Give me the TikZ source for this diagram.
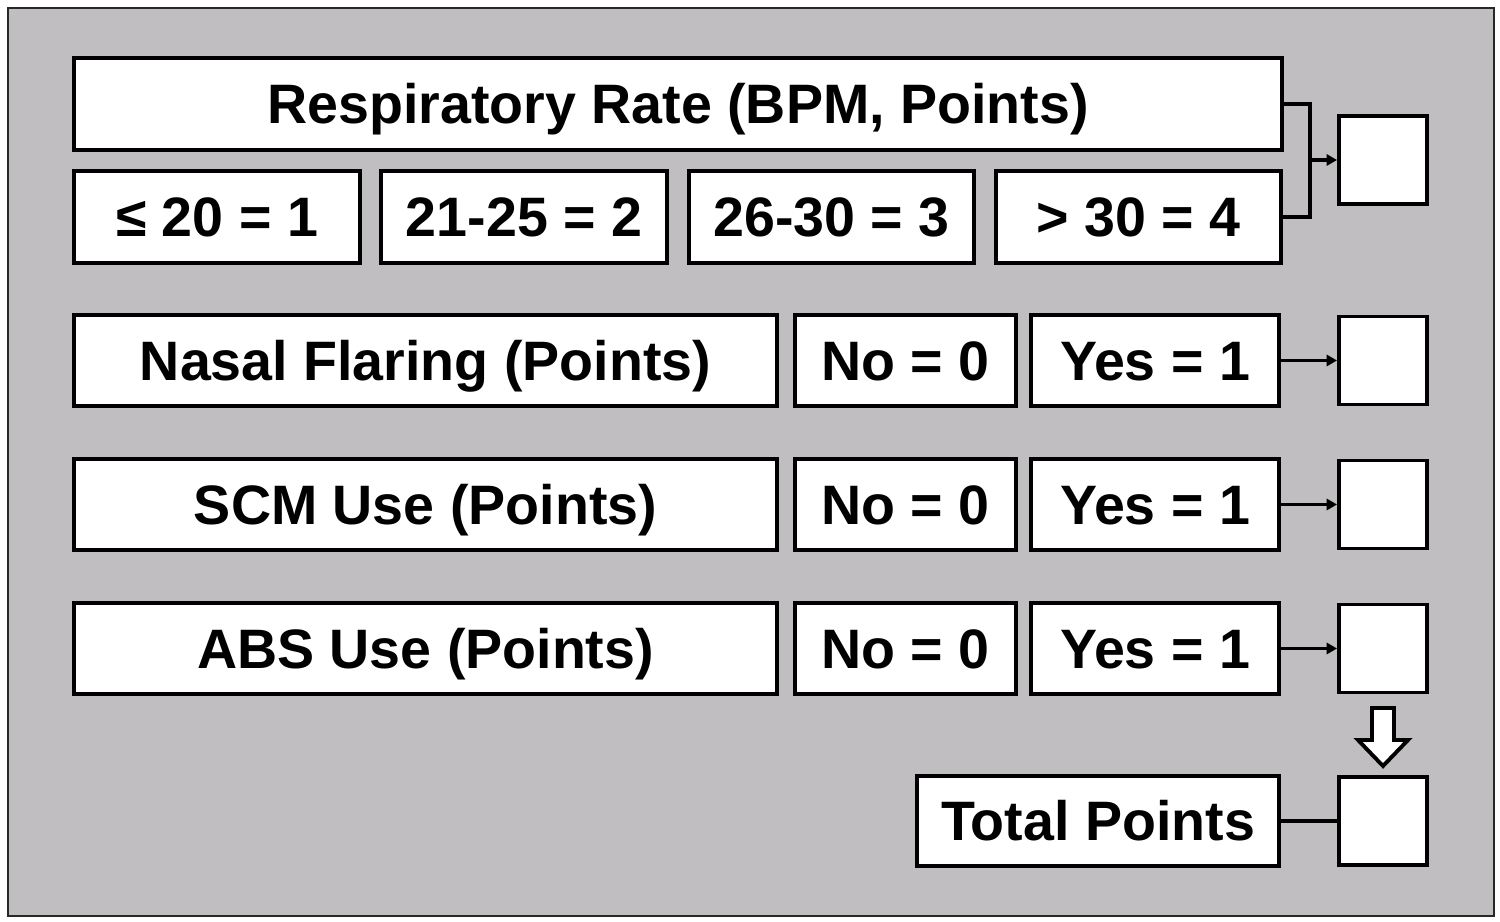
\documentclass[tikz,border=0pt]{standalone}
\usepackage{fontspec}
\setmainfont{Liberation Sans}
\usetikzlibrary{arrows.meta}
\begin{document}
\begin{tikzpicture}[x=0.01cm,y=-0.01cm,
  box/.style={draw=black,fill=white,line width=1.1pt,inner sep=0pt,
    font=\fontsize{15.8}{18}\selectfont\bfseries,minimum height=0.92cm,
    text height=14pt,text depth=2.7pt},
  score/.style={box,minimum width=0.88cm,minimum height=0.88cm},
  arr/.style={line width=0.9pt,-{Triangle[length=3pt,width=3.2pt]}},
  link/.style={line width=0.9pt}]
\useasboundingbox (0,0) rectangle (1500,922);
\draw[fill={rgb,255:red,192;green,190;blue,192},draw={rgb,255:red,40;green,40;blue,40},line width=0.6pt] (8,8) rectangle (1494,916);
%
\node[box,minimum width=12.08cm] (resp) at (678,104) {Respiratory Rate (BPM, Points)};
\node[box,minimum width=2.86cm] (le20) at (217,217) {≤ 20 = 1};
\node[box,minimum width=2.86cm] (r2125) at (524,217) {21-25 = 2};
\node[box,minimum width=2.85cm] (r2630) at (831.5,217) {26-30 = 3};
\node[box,minimum width=2.85cm] (gt30) at (1138.5,217) {> 30 = 4};
\node[score] (s1) at (1383,160) {};
\coordinate (j1) at (1310,160);
\draw[link] (resp.east) -| (j1) |- (gt30.east);
\draw[arr] (j1) -- (s1);
%
\node[box,minimum width=7.03cm,minimum height=0.91cm] (nasal) at (425.5,360.5) {Nasal Flaring (Points)};
\node[box,minimum width=2.21cm,minimum height=0.91cm] (no1) at (905.5,360.5) {No = 0};
\node[box,minimum width=2.48cm,minimum height=0.91cm] (yes1) at (1155,360.5) {Yes = 1};
\node[score] (s2) at (1383,360.5) {};
\draw[arr] (yes1) -- (s2);
%
\node[box,minimum width=7.03cm,minimum height=0.91cm] (scm) at (425.5,504.5) {SCM Use (Points)};
\node[box,minimum width=2.21cm,minimum height=0.91cm] (no2) at (905.5,504.5) {No = 0};
\node[box,minimum width=2.48cm,minimum height=0.91cm] (yes2) at (1155,504.5) {Yes = 1};
\node[score] (s3) at (1383,504.5) {};
\draw[arr] (yes2) -- (s3);
%
\node[box,minimum width=7.03cm,minimum height=0.91cm] (abs) at (425.5,648.5) {ABS Use (Points)};
\node[box,minimum width=2.21cm,minimum height=0.91cm] (no3) at (905.5,648.5) {No = 0};
\node[box,minimum width=2.48cm,minimum height=0.91cm] (yes3) at (1155,648.5) {Yes = 1};
\node[score] (s4) at (1383,648.5) {};
\draw[arr] (yes3) -- (s4);
%
\draw[fill=white,line width=1.1pt,line join=miter] (1372,708) -- (1394,708) -- (1394,740) -- (1408,740)
  -- (1383,766) -- (1358,740) -- (1372,740) -- cycle;
\node[box,minimum width=3.62cm,minimum height=0.90cm] (total) at (1098,821) {Total Points};
\node[score] (s5) at (1383,821) {};
\draw[link] (total) -- (s5);
\end{tikzpicture}
\end{document}
